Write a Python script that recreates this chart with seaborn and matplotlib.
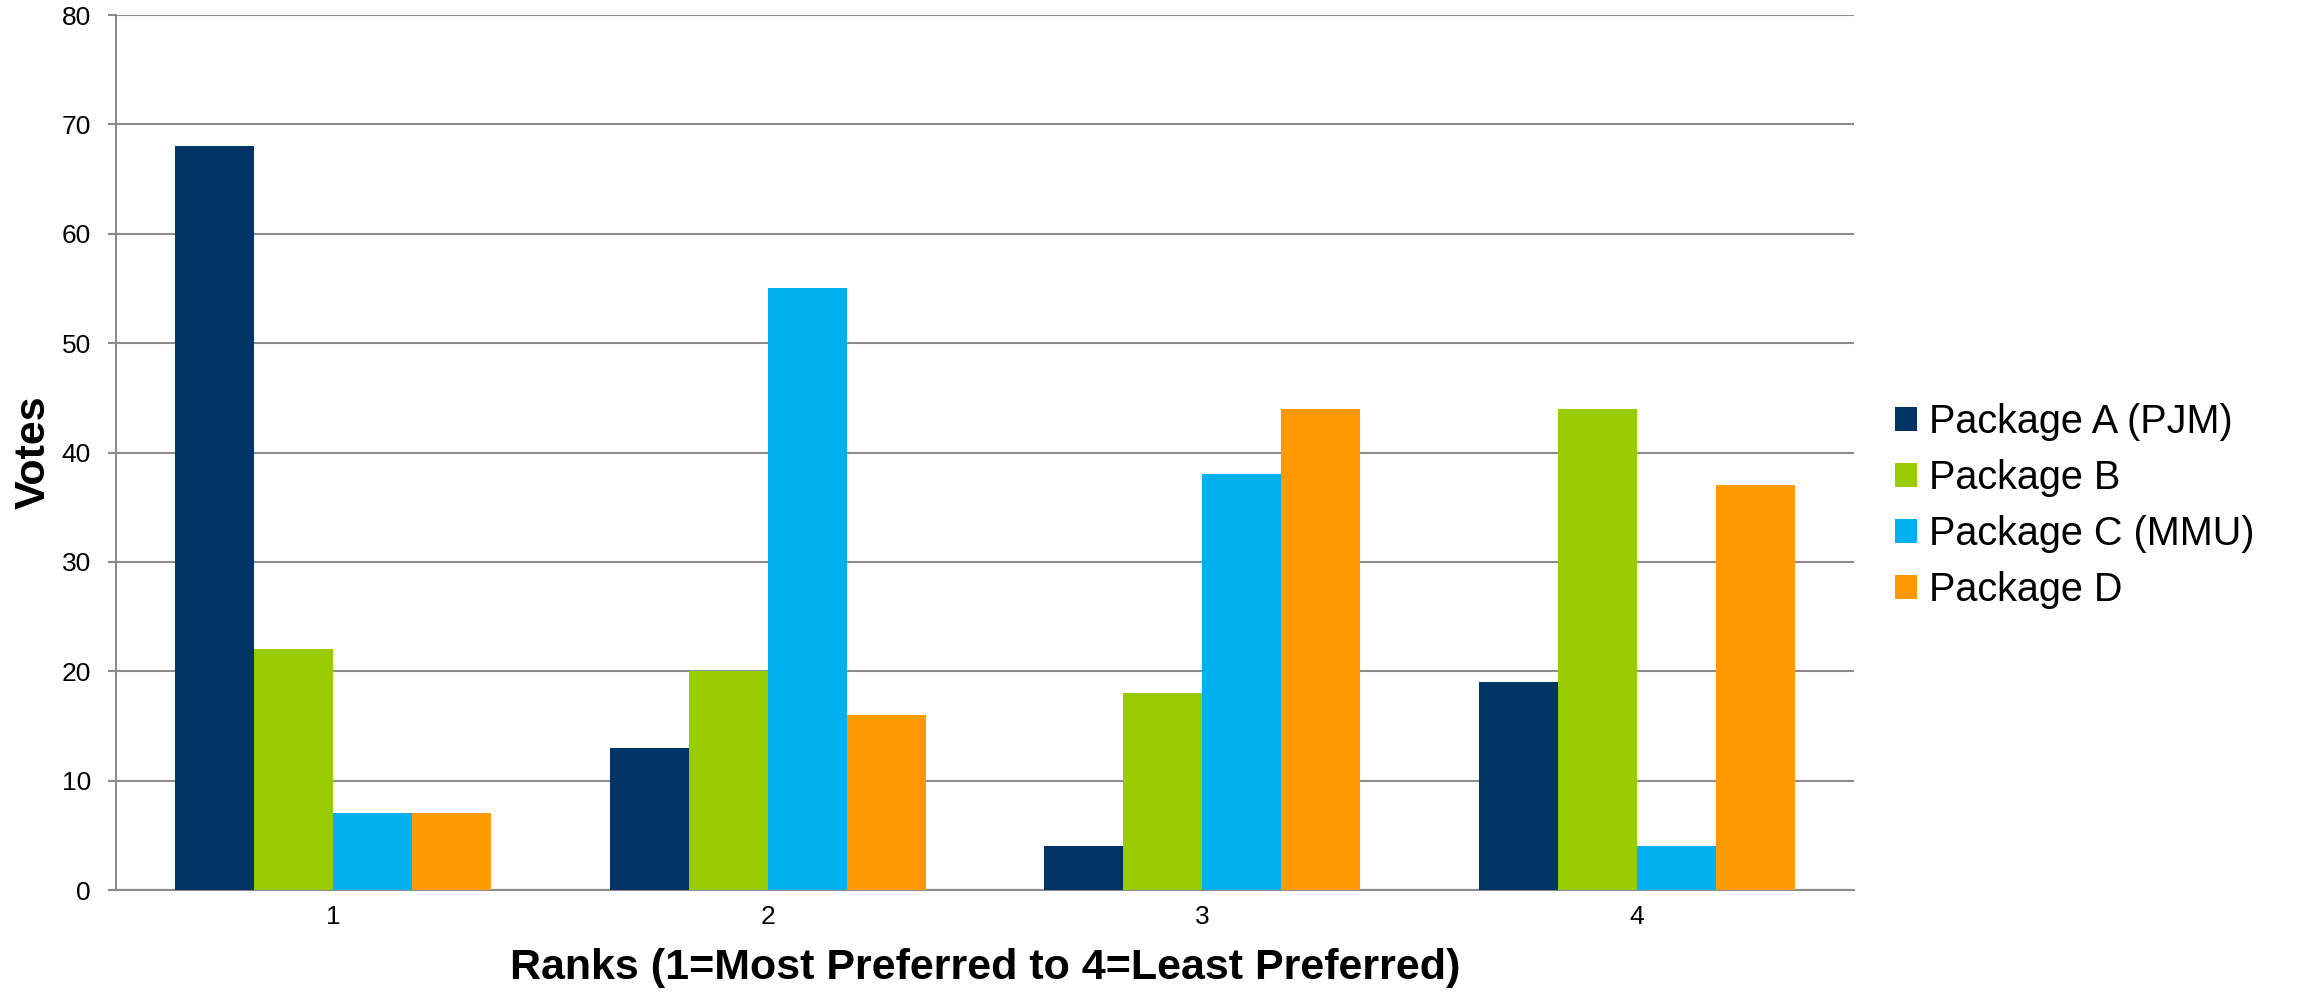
import pandas as pd
import matplotlib
matplotlib.use("Agg")
import matplotlib.pyplot as plt
import seaborn as sns

# data
ranks = ["1", "2", "3", "4"]
packages = ["Package A (PJM)", "Package B", "Package C (MMU)", "Package D"]
votes_a = [68, 13, 4, 19]
votes_b = [22, 20, 18, 44]
votes_c = [7, 55, 38, 4]
votes_d = [7, 16, 44, 37]
colors = ["#003366", "#99CC00", "#00B0F0", "#FF9900"]

rows = []
for pkg, vals in zip(packages, [votes_a, votes_b, votes_c, votes_d]):
    for r, v in zip(ranks, vals):
        rows.append({"Rank": r, "Package": pkg, "Votes": v})
df = pd.DataFrame(rows)

sns.set_style("white")
plt.rcParams["font.family"] = ["Liberation Sans", "DejaVu Sans"]
plt.rcParams["text.color"] = "black"
plt.rcParams["axes.labelcolor"] = "black"
plt.rcParams["xtick.color"] = "black"
plt.rcParams["ytick.color"] = "black"

fig = plt.figure(figsize=(23.1, 9.94), dpi=100)
ax = fig.add_axes([0.0502, 0.1046, 0.7524, 0.8803])

sns.barplot(data=df, x="Rank", y="Votes", hue="Package", order=ranks,
            hue_order=packages, palette=colors, saturation=1,
            width=0.727, gap=0, errorbar=None, ax=ax, zorder=3,
            edgecolor="none", linewidth=0)

ax.set_ylim(0, 80)
ax.set_xlim(-0.5, 3.5)
ax.set_yticks(range(0, 81, 10))

grid_col = "#8C8C8C"
ax.yaxis.grid(True, color=grid_col, linewidth=1.5, zorder=0)
ax.set_axisbelow(True)
for side in ["top", "right"]:
    ax.spines[side].set_visible(False)
for side in ["left", "bottom"]:
    ax.spines[side].set_color(grid_col)
    ax.spines[side].set_linewidth(1.5)

ax.tick_params(axis="y", length=6, width=1.5, color=grid_col, pad=12,
               labelsize=19, left=True, labelcolor="black")
ax.tick_params(axis="x", length=0, pad=11, labelsize=19, labelcolor="black")

ax.set_xlabel("Ranks (1=Most Preferred to 4=Least Preferred)",
              fontsize=31, fontweight="bold", color="black")
ax.xaxis.set_label_coords(0.5, (890 - 968) / 875)
ax.xaxis.label.set_va("center")
ax.set_ylabel("Votes", fontsize=31, fontweight="bold", color="black")
ax.yaxis.set_label_coords((34 - 116) / 1738, 0.5)
ax.yaxis.label.set_va("center")

handles, labels = ax.get_legend_handles_labels()
ax.get_legend().remove()
fig.legend(handles, labels, loc="center left", bbox_to_anchor=(0.8205, 0.491),
           frameon=False, fontsize=28.5, handlelength=0.55, handleheight=0.55,
           handletextpad=0.3, labelspacing=0.45, borderpad=0, borderaxespad=0,
           labelcolor="black")

fig.savefig("out.png", dpi=100, facecolor="white")
